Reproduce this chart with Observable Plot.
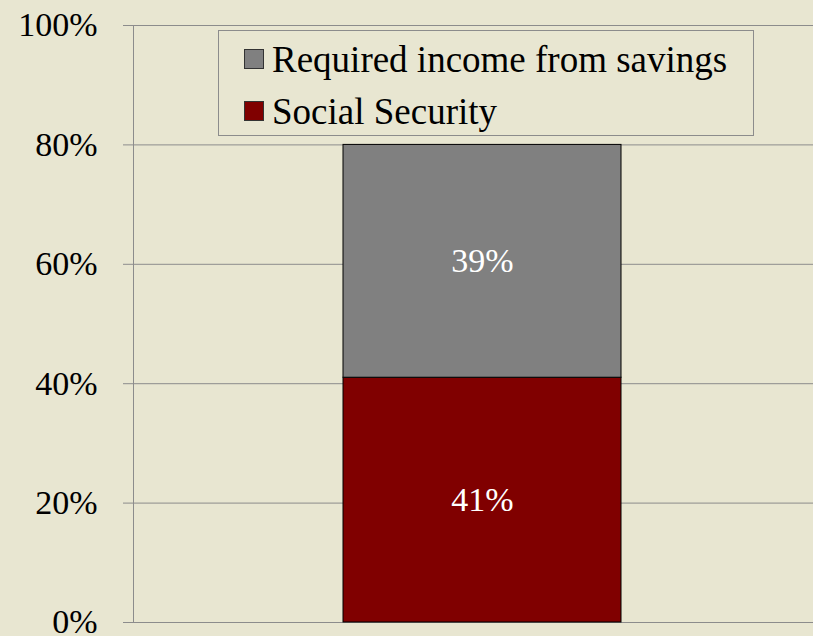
<!DOCTYPE html>
<html>
<head>
<meta charset="utf-8">
<script src="https://cdn.jsdelivr.net/npm/d3@7"></script>
<script src="https://cdn.jsdelivr.net/npm/@observablehq/plot@0.6"></script>
<style>
  html, body { margin: 0; padding: 0; background: #E8E6D1; }
  #wrap { position: relative; width: 813px; height: 636px; overflow: hidden; font-family: 'Liberation Serif', 'Times New Roman', serif; }
  #legend { position: absolute; left: 218px; top: 30px; width: 536px; height: 106px; border: 1px solid #8c8c8c; box-sizing: border-box; background: #E8E6D1; }
  .item { position: absolute; left: 25px; height: 40px; display: flex; align-items: center; font-size: 37px; color: #000; white-space: nowrap; }
  .sw { width: 18px; height: 18px; border: 1px solid #333; margin-right: 8px; }
</style>
</head>
<body>
<div id="wrap"></div>
<script>
const categories = ["Retirement income"];
const series = ["Social Security", "Required income from savings"];
const values = [0.41, 0.39];
const colors = ["#800000", "#808080"];
const yTicks = [0, 0.2, 0.4, 0.6, 0.8, 1.0];
const legendOrder = ["Required income from savings", "Social Security"];

const data = series.map((s, i) => ({cat: categories[0], series: s, value: values[i]}));
const pct = d => Math.round(d * 100) + "%";

const chart = Plot.plot({
  width: 813,
  height: 636,
  marginLeft: 133,
  marginTop: 25,
  marginBottom: 14,
  marginRight: 0,
  style: {background: "#E8E6D1", fontFamily: "'Liberation Serif', 'Times New Roman', serif", color: "#000", overflow: "hidden"},
  x: {domain: categories, range: [133, 832], padding: 0.43, axis: null},
  y: {domain: [0, 1], label: null},
  color: {domain: series, range: colors},
  marks: [
    Plot.gridY(yTicks, {stroke: "#8c8c8c", strokeOpacity: 1, strokeWidth: 1}),
    Plot.axisY(yTicks, {tickSize: 10, tickPadding: 26, stroke: "#8c8c8c", tickFormat: pct, fontSize: 34, fill: "#000", label: null}),
    Plot.frame({anchor: "left", stroke: "#8c8c8c"}),
    Plot.barY(data, {x: "cat", y: "value", fill: "series", stroke: "#000", strokeWidth: 1}),
    Plot.text(data, Plot.stackY({x: "cat", y: "value", text: d => pct(d.value), fill: "white", fontSize: 34}))
  ]
});
const wrap = document.getElementById("wrap");
wrap.appendChild(chart);

const legend = document.createElement("div");
legend.id = "legend";
legendOrder.forEach((s, i) => {
  const it = document.createElement("div");
  it.className = "item";
  it.style.top = (i === 0 ? 8 : 60) + "px";
  const sw = document.createElement("span");
  sw.className = "sw";
  sw.style.background = colors[series.indexOf(s)];
  it.appendChild(sw);
  it.appendChild(document.createTextNode(s));
  legend.appendChild(it);
});
wrap.appendChild(legend);
</script>
</body>
</html>
